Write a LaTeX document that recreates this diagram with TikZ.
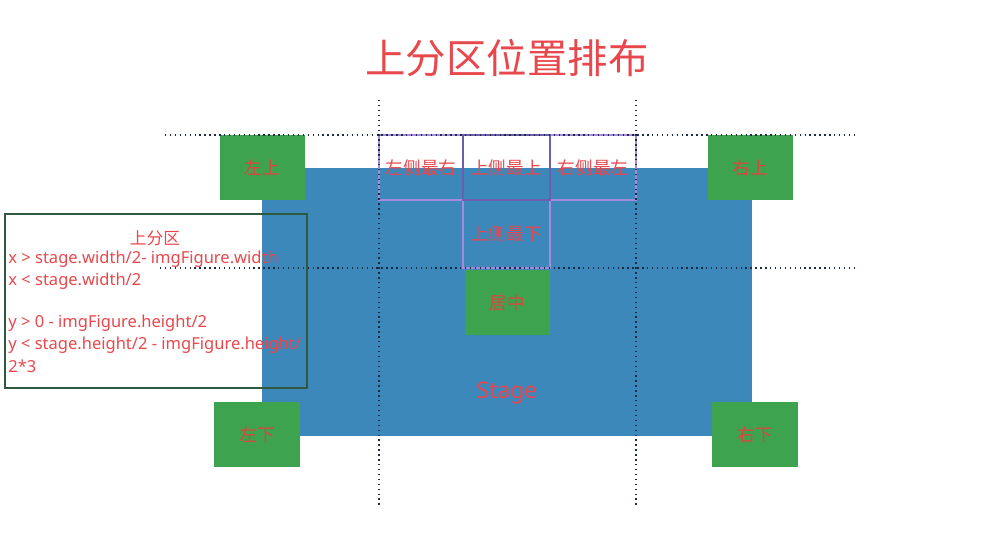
\documentclass[tikz,border=0pt]{standalone}
\usepackage{fontspec}
\setmainfont{Noto Sans}
\newfontfamily\cjk{Noto Sans CJK SC}
\definecolor{stageblue}{HTML}{3C88BB}
\definecolor{boxgreen}{HTML}{3DA34F}
\definecolor{txtred}{HTML}{E8474C}
\definecolor{lblred}{HTML}{E0443E}
\definecolor{gridpurple}{HTML}{A58BDB}
\definecolor{celldark}{HTML}{6E5CAE}
\definecolor{dotnavy}{HTML}{1E2A44}
\definecolor{framegreen}{HTML}{2F5A3E}
\tikzset{
  greenbox/.style={fill=boxgreen, draw=none, minimum width=1.7cm, minimum height=1.3cm, inner sep=0pt, font=\cjk\fontsize{10}{12}\selectfont, text=lblred},
  guide/.style={draw=dotnavy, line width=0.8pt, dotted},
  cell/.style={draw=gridpurple, line width=0.7pt, minimum width=1.7cm, inner sep=0pt, font=\cjk\fontsize{10}{12}\selectfont, text=txtred},
  formula/.style={anchor=west, inner sep=0pt, font=\fontsize{9.4}{11}\selectfont, text=txtred},
}
\begin{document}
\begin{tikzpicture}[x=0.02cm, y=-0.02cm]
\useasboundingbox (0,0) rectangle (1000,534);
% title
\node[font=\cjk\fontsize{23}{28}\selectfont, text=txtred] (title) at (507,58) {上分区位置排布};
% stage
\node[fill=stageblue, minimum width=9.8cm, minimum height=5.36cm, inner sep=0pt] (stage) at (507,302) {};
\node[font=\fontsize{13}{15}\selectfont, text=txtred] (stagelbl) at (507,393) {Stage};
% purple grid cells
\node[cell, minimum width=1.68cm, minimum height=1.3cm] (cl) at (421,167.5) {左侧最右};
\node[cell, minimum width=1.72cm, minimum height=1.3cm] (cr) at (593,167.5) {右侧最左};
\node[cell, minimum width=1.74cm, minimum height=1.36cm] (cb) at (506.5,234) {上侧最下};
\node[cell, draw=celldark, line width=0.6pt, minimum width=1.74cm, minimum height=1.3cm] (ct) at (506.5,167.5) {上侧最上};
% green boxes
\node[greenbox] (lt) at (262.5,167.5) {左上};
\node[greenbox] (rt) at (750.5,167.5) {右上};
\node[greenbox, minimum width=1.72cm] (lb) at (257,434.5) {左下};
\node[greenbox, minimum width=1.72cm] (rb) at (755,434.5) {右下};
\node[greenbox] (center) at (507.5,302.5) {居中};
% formula box
\node[draw=framegreen, line width=0.8pt, minimum width=6.04cm, minimum height=3.48cm, inner sep=0pt] (frame) at (156,301) {};
\node[font=\cjk\fontsize{9.5}{11}\selectfont, text=txtred, inner sep=0pt] (fhead) at (155,238) {上分区};
\node[formula] (f1) at (8,259) {x > stage.width/2- imgFigure.width};
\node[formula] (f2) at (8,281) {x < stage.width/2};
\node[formula] (f3) at (8,323) {y > 0 - imgFigure.height/2};
\node[formula] (f4) at (8,345) {y < stage.height/2 - imgFigure.height/};
\node[formula] (f5) at (8,366) {2*3};
% guide lines
\coordinate (v1t) at (379,100); \coordinate (v1b) at (379,505);
\coordinate (v2t) at (636,100); \coordinate (v2b) at (636,505);
\coordinate (h1l) at (165,135); \coordinate (h1r) at (858,135);
\coordinate (h2l) at (160,268); \coordinate (h2r) at (855,268);
\draw[guide] (v1t) -- (v1b);
\draw[guide] (v2t) -- (v2b);
\draw[guide] (h1l) -- (h1r);
\draw[guide] (h2l) -- (h2r);
\end{tikzpicture}
\end{document}
